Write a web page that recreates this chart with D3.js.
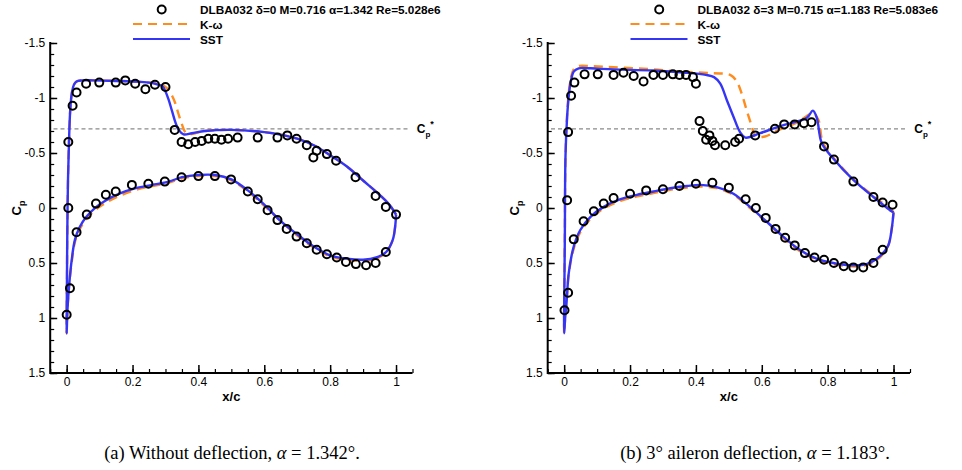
<!DOCTYPE html>
<html><head><meta charset="utf-8">
<script src="https://cdn.jsdelivr.net/npm/d3@7"></script>
<style>body{margin:0;background:#fff}svg{display:block}</style>
</head><body>
<svg id="c" width="962" height="470"></svg>
<script>
// ---------- tick labels ----------
const xTickValues = [0, 0.2, 0.4, 0.6, 0.8, 1];
const xTickLabels = ["0", "0.2", "0.4", "0.6", "0.8", "1"];
const yTickValues = [-1.5, -1, -0.5, 0, 0.5, 1, 1.5];
const yTickLabels = ["-1.5", "-1", "-0.5", "0", "0.5", "1", "1.5"];
const cpStar = -0.72;

// ---------- panel (a) experiment ----------
const expA_x = [0.005,0.018,0.030,0.059,0.099,0.149,0.178,0.208,0.239,0.268,0.300,0.328,0.349,0.369,0.390,0.410,0.430,0.450,0.470,0.490,0.519,0.580,0.640,0.670,0.698,0.729,0.749,0.759,0.790,0.818,0.877,0.938,0.969,1.000,
  0.000,0.010,0.005,0.030,0.061,0.089,0.119,0.149,0.198,0.248,0.298,0.349,0.400,0.450,0.499,0.550,0.580,0.610,0.640,0.668,0.698,0.729,0.759,0.790,0.820,0.848,0.878,0.909,0.938,0.969];
const expA_cp = [-0.60,-0.93,-1.05,-1.13,-1.14,-1.14,-1.16,-1.13,-1.08,-1.12,-1.10,-0.71,-0.60,-0.58,-0.60,-0.61,-0.63,-0.63,-0.62,-0.63,-0.64,-0.64,-0.64,-0.66,-0.63,-0.57,-0.46,-0.52,-0.49,-0.43,-0.28,-0.11,-0.01,0.06,
  0.97,0.73,0.00,0.22,0.06,-0.04,-0.12,-0.15,-0.21,-0.22,-0.24,-0.28,-0.29,-0.29,-0.26,-0.15,-0.08,0.02,0.11,0.19,0.26,0.32,0.38,0.42,0.45,0.49,0.51,0.52,0.50,0.40];

// panel (a) K-omega: upper surface LE->TE, then lower surface LE->TE
const kwA_up_x  = [0.000,0.001,0.002,0.004,0.007,0.011,0.016,0.022,0.030,0.045,0.080,0.150,0.200,0.250,0.280,0.300,0.310,0.320,0.330,0.340,0.350,0.360,0.370,0.390,0.420,0.500,0.600,0.660,0.700,0.750,0.800,0.850,0.900,0.950,0.980,1.000];
const kwA_up_cp = [1.14,0.60,0.20,-0.25,-0.60,-0.90,-1.05,-1.12,-1.15,-1.16,-1.16,-1.155,-1.15,-1.14,-1.13,-1.10,-1.07,-1.02,-0.95,-0.85,-0.76,-0.69,-0.67,-0.68,-0.70,-0.71,-0.69,-0.66,-0.63,-0.57,-0.48,-0.38,-0.25,-0.12,-0.03,0.06];
const kwA_lo_x  = [0.000,0.002,0.005,0.010,0.015,0.025,0.040,0.060,0.090,0.120,0.160,0.210,0.260,0.310,0.350,0.400,0.450,0.500,0.550,0.600,0.650,0.700,0.750,0.800,0.850,0.900,0.940,0.970,0.990,0.998,1.000];
const kwA_lo_cp = [1.14,0.95,0.80,0.63,0.50,0.31,0.19,0.10,0.01,-0.05,-0.11,-0.165,-0.20,-0.23,-0.27,-0.29,-0.29,-0.25,-0.15,-0.02,0.12,0.25,0.36,0.44,0.47,0.48,0.46,0.40,0.29,0.15,0.06];

// panel (a) SST
const sstA_up_x  = [0.000,0.001,0.002,0.004,0.007,0.011,0.016,0.022,0.030,0.045,0.080,0.150,0.200,0.250,0.280,0.290,0.300,0.310,0.320,0.330,0.340,0.355,0.380,0.420,0.500,0.600,0.660,0.700,0.750,0.800,0.850,0.900,0.950,0.980,1.000];
const sstA_up_cp = [1.14,0.60,0.20,-0.25,-0.60,-0.90,-1.05,-1.12,-1.15,-1.16,-1.16,-1.155,-1.15,-1.14,-1.12,-1.11,-1.06,-0.98,-0.88,-0.78,-0.71,-0.67,-0.68,-0.70,-0.71,-0.69,-0.66,-0.63,-0.57,-0.48,-0.38,-0.25,-0.12,-0.03,0.06];
const sstA_lo_x  = [0.000,0.002,0.005,0.010,0.015,0.025,0.040,0.060,0.090,0.120,0.160,0.210,0.260,0.310,0.350,0.400,0.450,0.500,0.550,0.600,0.650,0.700,0.750,0.800,0.850,0.900,0.940,0.970,0.990,0.998,1.000];
const sstA_lo_cp = [1.14,0.95,0.80,0.62,0.48,0.29,0.17,0.08,-0.01,-0.07,-0.13,-0.18,-0.21,-0.24,-0.28,-0.30,-0.30,-0.26,-0.16,-0.03,0.12,0.24,0.35,0.43,0.46,0.47,0.45,0.40,0.29,0.15,0.06];

// ---------- panel (b) experiment ----------
const expB_x = [0.009,0.012,0.021,0.031,0.062,0.102,0.150,0.180,0.211,0.241,0.271,0.300,0.330,0.350,0.370,0.391,0.400,0.411,0.421,0.431,0.441,0.450,0.458,0.489,0.519,0.531,0.580,0.640,0.668,0.700,0.728,0.751,0.789,0.819,0.878,0.939,0.967,0.997,
  0.001,0.012,0.029,0.059,0.090,0.120,0.150,0.200,0.249,0.300,0.350,0.400,0.450,0.500,0.551,0.582,0.612,0.642,0.671,0.700,0.731,0.760,0.789,0.819,0.849,0.878,0.908,0.939,0.967];
const expB_cp = [-0.07,-0.69,-1.02,-1.14,-1.215,-1.215,-1.21,-1.23,-1.20,-1.15,-1.21,-1.21,-1.215,-1.21,-1.21,-1.19,-1.13,-0.79,-0.70,-0.62,-0.66,-0.61,-0.57,-0.57,-0.60,-0.63,-0.66,-0.72,-0.76,-0.76,-0.77,-0.78,-0.56,-0.44,-0.24,-0.10,-0.05,-0.03,
  0.93,0.77,0.285,0.12,0.03,-0.04,-0.09,-0.13,-0.16,-0.17,-0.20,-0.22,-0.23,-0.185,-0.08,0.00,0.09,0.19,0.27,0.34,0.41,0.45,0.47,0.50,0.53,0.54,0.54,0.50,0.38];

// panel (b) K-omega
const kwB_up_x  = [0.000,0.001,0.002,0.004,0.009,0.014,0.019,0.029,0.044,0.080,0.150,0.271,0.352,0.453,0.504,0.524,0.539,0.554,0.570,0.580,0.610,0.645,0.706,0.755,0.772,0.785,0.817,0.878,0.939,0.994,1.000];
const kwB_up_cp = [1.14,0.60,0.29,-0.47,-0.85,-1.05,-1.16,-1.26,-1.29,-1.29,-1.28,-1.26,-1.24,-1.225,-1.21,-1.15,-1.04,-0.89,-0.74,-0.655,-0.65,-0.70,-0.775,-0.86,-0.80,-0.60,-0.46,-0.26,-0.11,0.02,0.04];
const kwB_lo_x  = [0.000,0.003,0.007,0.014,0.029,0.049,0.080,0.120,0.171,0.221,0.271,0.322,0.373,0.413,0.463,0.514,0.564,0.615,0.665,0.715,0.766,0.817,0.868,0.918,0.958,0.984,0.994,1.000];
const kwB_lo_cp = [1.14,1.00,0.87,0.60,0.37,0.22,0.10,0.005,-0.065,-0.105,-0.135,-0.165,-0.185,-0.195,-0.18,-0.12,0.00,0.13,0.27,0.39,0.47,0.51,0.53,0.52,0.45,0.34,0.20,0.04];

// panel (b) SST
const sstB_up_x  = [0.000,0.001,0.002,0.004,0.009,0.014,0.019,0.029,0.044,0.080,0.150,0.270,0.370,0.430,0.455,0.474,0.494,0.514,0.534,0.550,0.595,0.656,0.737,0.755,0.767,0.782,0.817,0.878,0.939,0.994,1.000];
const sstB_up_cp = [1.14,0.60,0.29,-0.47,-0.83,-1.02,-1.13,-1.24,-1.27,-1.27,-1.26,-1.25,-1.23,-1.21,-1.19,-1.13,-0.98,-0.83,-0.69,-0.64,-0.68,-0.745,-0.82,-0.885,-0.82,-0.59,-0.45,-0.255,-0.10,0.03,0.04];
const sstB_lo_x  = [0.000,0.003,0.007,0.014,0.029,0.049,0.080,0.120,0.171,0.221,0.271,0.322,0.373,0.413,0.463,0.514,0.564,0.615,0.665,0.715,0.766,0.817,0.868,0.918,0.958,0.984,0.994,1.000];
const sstB_lo_cp = [1.14,1.00,0.87,0.59,0.35,0.20,0.08,-0.01,-0.08,-0.12,-0.15,-0.18,-0.20,-0.21,-0.19,-0.13,-0.01,0.125,0.26,0.38,0.46,0.50,0.52,0.51,0.44,0.34,0.20,0.04];

// ---------- texts ----------
const legendExpA = "DLBA032 δ=0 M=0.716 α=1.342 Re=5.028e6";
const legendExpB = "DLBA032 δ=3 M=0.715 α=1.183 Re=5.083e6";
const legendKW = "K-ω";
const legendSST = "SST";
const captionA = ["(a) Without deflection, ", "α", " = 1.342°."];
const captionB = ["(b) 3° aileron deflection, ", "α", " = 1.183°."];

// ---------- drawing ----------
const zip = (xs, ys) => xs.map((v, i) => [v, ys[i]]);
const loop = (ux, ucp, lx, lcp) => zip(ux, ucp).reverse().concat(zip(lx, lcp).slice(1));

const svg = d3.select("#c");
const ORANGE = "#ff8c1e", BLUE = "#3535f5";
const FONT = "'Liberation Sans', Arial, Helvetica, sans-serif";

function panel(ox, cx, exp, kw, sst, legText, caption) {
  const g = svg.append("g");
  const x = d3.scaleLinear().domain([-0.05, 1.05]).range([ox + 50.2, ox + 412.5]);
  const y = d3.scaleLinear().domain([-1.5, 1.5]).range([43, 373]);

  // Cp* line
  g.append("line").attr("x1", x(-0.04)).attr("x2", x(1.04)).attr("y1", y(cpStar)).attr("y2", y(cpStar))
    .attr("stroke", "#8a8a8a").attr("stroke-width", 1.2).attr("stroke-dasharray", "4,3");
  const cs = g.append("text").attr("x", x(1.063)).attr("y", y(cpStar) + 4.5)
    .attr("font-family", FONT).attr("font-weight", "bold").attr("font-size", 12);
  cs.append("tspan").text("C");
  cs.append("tspan").attr("font-size", 8).attr("dy", 4).text("p");
  cs.append("tspan").attr("font-size", 9).attr("dy", -10).text("*");

  const line = d3.line().x(d => x(d[0])).y(d => y(d[1])).curve(d3.curveCatmullRom.alpha(0.5));
  g.append("path").attr("d", line(kw)).attr("fill", "none").attr("stroke", ORANGE)
    .attr("stroke-width", 2.4).attr("stroke-dasharray", "9,6");
  g.append("path").attr("d", line(sst)).attr("fill", "none").attr("stroke", BLUE).attr("stroke-width", 2.4);

  g.selectAll("circle.e").data(exp).enter().append("circle").attr("class", "e")
    .attr("cx", d => x(d[0])).attr("cy", d => y(d[1])).attr("r", 4)
    .attr("fill", "none").attr("stroke", "#000").attr("stroke-width", 2);

  // axes
  const yMinor = d3.range(-15, 16).map(v => v / 10);
  const xMinor = d3.range(-1, 22).map(v => v / 20);
  const xl = x(-0.05);
  g.append("g").attr("transform", `translate(${xl},0)`)
    .call(d3.axisLeft(y).tickValues(yMinor).tickSize(-4).tickFormat(""))
    .call(a => a.select(".domain").remove())
    .call(a => a.selectAll("line").attr("stroke-width", 1.2));
  g.append("g").attr("transform", `translate(${xl},0)`)
    .call(d3.axisLeft(y).tickValues(yTickValues).tickSize(-7).tickPadding(5)
      .tickFormat((d, i) => yTickLabels[i]))
    .call(a => a.select(".domain").remove())
    .call(a => a.selectAll("line").attr("stroke-width", 1.5))
    .call(a => a.selectAll("text").attr("font-family", FONT).attr("font-size", 12).attr("fill", "#000"));
  g.append("g").attr("transform", `translate(0,${y(1.5)})`)
    .call(d3.axisBottom(x).tickValues(xMinor).tickSize(-4).tickFormat(""))
    .call(a => a.select(".domain").remove())
    .call(a => a.selectAll("line").attr("stroke-width", 1.2));
  g.append("g").attr("transform", `translate(0,${y(1.5)})`)
    .call(d3.axisBottom(x).tickValues(xTickValues).tickSize(-8).tickPadding(4)
      .tickFormat((d, i) => xTickLabels[i]))
    .call(a => a.select(".domain").remove())
    .call(a => a.selectAll("line").attr("stroke-width", 1.5))
    .call(a => a.selectAll("text").attr("font-family", FONT).attr("font-size", 12).attr("fill", "#000"));
  g.append("path").attr("d", `M${xl},${y(-1.5) - 1}V${y(1.5)}H${x(1.05)}`)
    .attr("fill", "none").attr("stroke", "#000").attr("stroke-width", 2);

  // axis titles
  g.append("text").attr("x", x(0.5)).attr("y", 401).attr("text-anchor", "middle")
    .attr("font-family", FONT).attr("font-weight", "bold").attr("font-size", 13).text("x/c");
  const cp = g.append("text").attr("transform", `translate(${ox + 21},208) rotate(-90)`)
    .attr("text-anchor", "middle").attr("font-family", FONT).attr("font-weight", "bold").attr("font-size", 13);
  cp.append("tspan").text("C");
  cp.append("tspan").attr("font-size", 9).attr("dy", 4).text("p");

  // legend
  const lg = g.append("g").attr("font-family", FONT).attr("font-weight", "bold").attr("font-size", 11.8);
  lg.append("circle").attr("cx", ox + 161.7).attr("cy", 9.5).attr("r", 4).attr("fill", "none")
    .attr("stroke", "#000").attr("stroke-width", 2);
  lg.append("text").attr("x", ox + 200).attr("y", 13.5).text(legText);
  lg.append("line").attr("x1", ox + 133).attr("x2", ox + 190).attr("y1", 24).attr("y2", 24)
    .attr("stroke", ORANGE).attr("stroke-width", 2.2).attr("stroke-dasharray", "9,6");
  lg.append("text").attr("x", ox + 200).attr("y", 28.5).text(legendKW);
  lg.append("line").attr("x1", ox + 133).attr("x2", ox + 190).attr("y1", 39).attr("y2", 39)
    .attr("stroke", BLUE).attr("stroke-width", 2.2);
  lg.append("text").attr("x", ox + 200).attr("y", 43.5).text(legendSST);

  // caption
  const cap = svg.append("text").attr("x", cx).attr("y", 459).attr("text-anchor", "middle")
    .attr("font-family", "'Liberation Serif', 'Times New Roman', serif").attr("font-size", 18.5);
  cap.append("tspan").text(caption[0]);
  cap.append("tspan").attr("font-style", "italic").text(caption[1]);
  cap.append("tspan").text(caption[2]);
}

panel(0, 232, zip(expA_x, expA_cp), loop(kwA_up_x, kwA_up_cp, kwA_lo_x, kwA_lo_cp),
  loop(sstA_up_x, sstA_up_cp, sstA_lo_x, sstA_lo_cp), legendExpA, captionA);
panel(497.5, 755, zip(expB_x, expB_cp), loop(kwB_up_x, kwB_up_cp, kwB_lo_x, kwB_lo_cp),
  loop(sstB_up_x, sstB_up_cp, sstB_lo_x, sstB_lo_cp), legendExpB, captionB);
</script>
</body></html>
